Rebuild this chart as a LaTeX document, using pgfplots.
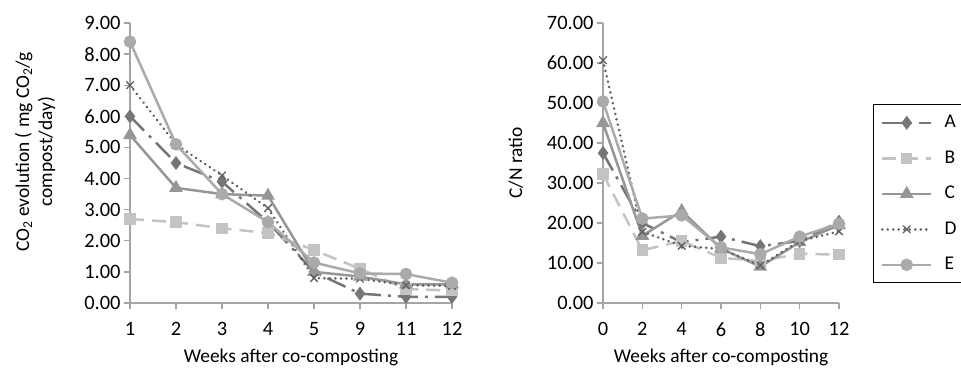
\documentclass[border=0pt]{standalone}
\usepackage{fontspec}
\setmainfont{Carlito}
\usepackage{pgfplots}
\pgfplotsset{compat=1.18}
\definecolor{cA}{RGB}{118,118,118}
\definecolor{cB}{RGB}{195,195,195}
\definecolor{cC}{RGB}{150,150,150}
\definecolor{cD}{RGB}{95,95,95}
\definecolor{cE}{RGB}{170,170,170}
\definecolor{axgray}{RGB}{165,165,165}
\newcommand{\fs}{\fontsize{19.5}{23}\selectfont}
\newcommand{\ft}{\fontsize{20.5}{24}\selectfont}
\pgfplotsset{
  base/.style={
    scale only axis, height=280bp, anchor=south west,
    axis lines*=left, clip=false,
    axis line style={color=axgray, line width=1.3bp},
    tick style={color=axgray, line width=1.3bp},
    tick align=outside, major tick length=6bp,
    ymin=0,
    tick label style={font=\ft, text=black},
    label style={font=\fs, text=black},
    /pgf/number format/assume math mode=true,
    /pgf/number format/fixed, /pgf/number format/fixed zerofill,
    /pgf/number format/precision=2,
    xticklabel style={yshift=-10bp, /pgf/number format/precision=0, /pgf/number format/fixed zerofill=false},
  },
  sA/.style={color=cA, line width=2.5bp, dash pattern=on 20bp off 7bp on 3bp off 7bp, mark=diamond*, mark size=5bp, mark options={solid, fill=cA}},
  sB/.style={color=cB, line width=2.5bp, dash pattern=on 14bp off 8bp, mark=square*, mark size=4.5bp, mark options={solid, fill=cB}},
  sC/.style={color=cC, line width=2.5bp, solid, mark=triangle*, mark size=5.5bp, mark options={solid, fill=cC}},
  sD/.style={color=cD, line width=2.8bp, line cap=round, dash pattern=on 0.01bp off 5.5bp, mark=x, mark size=5bp, mark options={solid, line width=1.3bp}},
  sE/.style={color=cE, line width=2.5bp, solid, mark=*, mark size=5bp, mark options={solid, fill=cE}},
}
\begin{document}
\begin{tikzpicture}
\useasboundingbox (0,0) rectangle (961bp,368bp);
\begin{axis}[base,
  at={(130bp,65bp)}, width=322bp,
  xmin=0, xmax=7, xtick={0,...,7}, xticklabels={1,2,3,4,5,9,11,12},
  ymax=9, ytick={0,1,...,9},
  xlabel={Weeks after co-composting},
  xlabel style={at={(rel axis cs:0.5,-0.196)}, anchor=center},
  ylabel={CO\textsubscript{2} evolution ( mg CO\textsubscript{2}/g\\compost/day)},
  ylabel style={align=center, at={(rel axis cs:-0.295,0.54)}, anchor=center},
]
\addplot[sA] coordinates {(0,6.0) (1,4.5) (2,3.9) (3,2.6) (4,1.0) (5,0.3) (6,0.2) (7,0.2)};
\addplot[sB] coordinates {(0,2.7) (1,2.6) (2,2.4) (3,2.25) (4,1.7) (5,1.1) (6,0.45) (7,0.4)};
\addplot[sC] coordinates {(0,5.4) (1,3.7) (2,3.5) (3,3.45) (4,1.0) (5,0.85) (6,0.6) (7,0.6)};
\addplot[sD] coordinates {(0,7.0) (1,5.1) (2,4.1) (3,3.05) (4,0.8) (5,0.78) (6,0.57) (7,0.55)};
\addplot[sE] coordinates {(0,8.4) (1,5.1) (2,3.5) (3,2.6) (4,1.3) (5,0.95) (6,0.93) (7,0.65)};
\end{axis}
\begin{axis}[base,
  at={(603bp,65bp)}, width=236bp,
  xmin=0, xmax=12, xtick={0,2,...,12},
  ymax=70, ytick={0,10,...,70},
  xlabel={Weeks after co-composting},
  xlabel style={at={(rel axis cs:0.5,-0.196)}, anchor=center},
  ylabel={C/N ratio},
  ylabel style={at={(rel axis cs:-0.37,0.5)}, anchor=center},
  legend style={at={(rel axis cs:1.145,0.71)}, anchor=north west, draw=black, line width=1.2bp,
    font=\fs, inner xsep=7bp, inner ysep=9bp, row sep=17.5bp,
    nodes={inner sep=0pt, text height=14bp, text depth=4bp},
    /tikz/every odd column/.style={column sep=12bp}},
  legend cell align=left,
  legend image code/.code={\draw[mark repeat=2, mark phase=2] plot coordinates {(0bp,0bp) (24.5bp,0bp) (49bp,0bp)};},
]
\addplot[sA] coordinates {(0,37.5) (2,20) (4,15.2) (6,16.6) (8,14.2) (10,15.5) (12,20.3)};
\addlegendentry{A}
\addplot[sB] coordinates {(0,32.2) (2,13.2) (4,15.5) (6,11.3) (8,10.5) (10,12.3) (12,12.1)};
\addlegendentry{B}
\addplot[sC] coordinates {(0,45) (2,16.8) (4,23) (6,13.6) (8,9.1) (10,15.2) (12,19.5)};
\addlegendentry{C}
\addplot[sD] coordinates {(0,60.7) (2,17.8) (4,14.3) (6,13.5) (8,9.4) (10,15.5) (12,17.9)};
\addlegendentry{D}
\addplot[sE] coordinates {(0,50.4) (2,21.1) (4,21.9) (6,13.9) (8,12.2) (10,16.6) (12,19.8)};
\addlegendentry{E}
\end{axis}
\end{tikzpicture}
\end{document}
